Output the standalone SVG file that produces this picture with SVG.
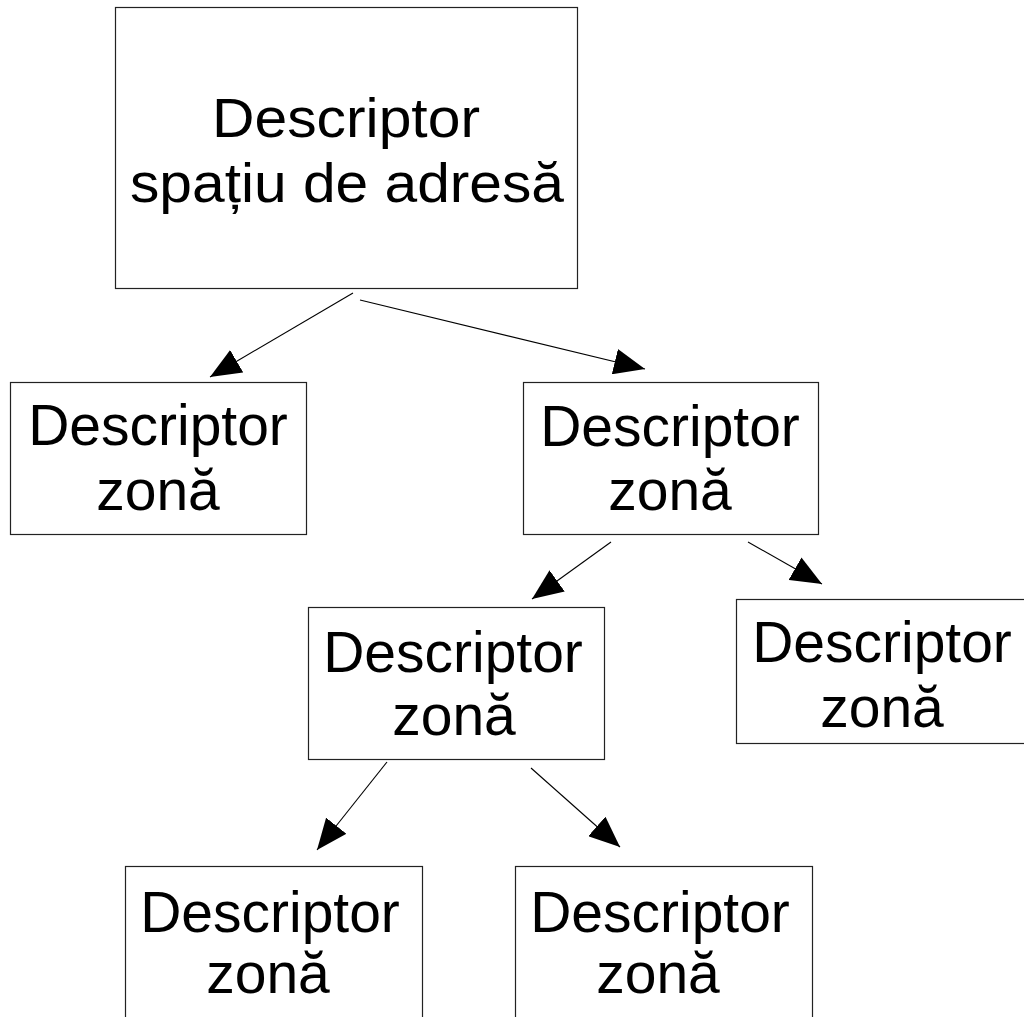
<svg xmlns="http://www.w3.org/2000/svg" width="1024" height="1017" viewBox="0 0 1024 1017">
<style>
.box{fill:#fff;stroke:#222;stroke-width:1.2}
.lbl{font-family:"Liberation Sans",Arial,sans-serif;font-size:57px;fill:#000;text-anchor:middle}
.top{font-size:55px}
.conn{stroke:#000;stroke-width:1.1;fill:none;marker-end:url(#ah)}
</style>
<defs>
<marker id="ah" markerUnits="userSpaceOnUse" markerWidth="32" markerHeight="26" refX="31" refY="13" orient="auto" viewBox="0 0 32 26">
<path d="M0,0 L31,13 L0,26 z" fill="#000"/>
</marker>
</defs>
<rect width="1024" height="1017" fill="#fff"/>
<g id="connectors">
<line class="conn" x1="353" y1="293" x2="210" y2="377"/>
<line class="conn" x1="360" y1="300" x2="645" y2="369"/>
<line class="conn" x1="611" y1="542" x2="532" y2="599"/>
<line class="conn" x1="748" y1="542" x2="822" y2="584"/>
<line class="conn" x1="387" y1="762" x2="317" y2="850"/>
<line class="conn" x1="531" y1="768" x2="620" y2="847"/>
</g>
<g id="node-root">
<rect class="box" x="115.5" y="7.5" width="462" height="281"/>
<text class="lbl top" x="346" y="137" textLength="268" lengthAdjust="spacingAndGlyphs">Descriptor</text>
<text class="lbl top" x="347" y="202" textLength="434" lengthAdjust="spacingAndGlyphs">spațiu de adresă</text>
</g>
<g id="node-zone1">
<rect class="box" x="10.5" y="382.5" width="296" height="152"/>
<text class="lbl" x="158" y="445">Descriptor</text>
<text class="lbl" x="158" y="510">zonă</text>
</g>
<g id="node-zone2">
<rect class="box" x="523.5" y="382.5" width="295" height="152"/>
<text class="lbl" x="670" y="446">Descriptor</text>
<text class="lbl" x="670" y="510">zonă</text>
</g>
<g id="node-zone3">
<rect class="box" x="736.5" y="599.5" width="296" height="144"/>
<text class="lbl" x="882" y="662">Descriptor</text>
<text class="lbl" x="882" y="727">zonă</text>
</g>
<g id="node-zone4">
<rect class="box" x="308.5" y="607.5" width="296" height="152"/>
<text class="lbl" x="453" y="672">Descriptor</text>
<text class="lbl" x="454" y="735">zonă</text>
</g>
<g id="node-zone5">
<rect class="box" x="125.5" y="866.5" width="297" height="170"/>
<text class="lbl" x="270" y="932">Descriptor</text>
<text class="lbl" x="268" y="993">zonă</text>
</g>
<g id="node-zone6">
<rect class="box" x="515.5" y="866.5" width="297" height="170"/>
<text class="lbl" x="660" y="932">Descriptor</text>
<text class="lbl" x="658" y="993">zonă</text>
</g>
</svg>
